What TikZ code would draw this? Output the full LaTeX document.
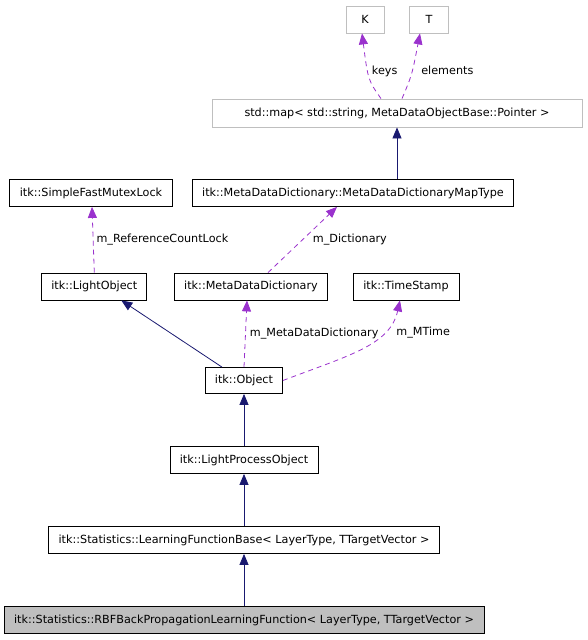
\documentclass[tikz,border=0pt]{standalone}
\usepackage{fontspec}
\setmainfont{DejaVu Sans}
\usetikzlibrary{arrows.meta,positioning}
\definecolor{edgeblue}{HTML}{191970}
\definecolor{edgepurple}{HTML}{9A32CD}
\definecolor{boxgray}{HTML}{BFBFBF}
\tikzset{
        block/.style = {draw=black, rectangle, line width=0.8pt,
            minimum height=27pt, inner xsep=6pt,
            font=\fontsize{11.2}{13}\selectfont},
        extblock/.style = {block, draw=boxgray},
        focus/.style = {block, fill=boxgray},
        inherit/.style = {draw=edgeblue, line width=0.8pt,
            -{Triangle[length=11pt,width=9pt]}},
        member/.style = {draw=edgepurple, line width=0.8pt,
            dash pattern=on 5pt off 4pt,
            -{Triangle[length=11pt,width=9pt]}},
        lbl/.style = {text=black, inner sep=1pt,
            font=\fontsize{11.2}{13}\selectfont},
    }

\begin{document}
\begin{tikzpicture}[x=1pt,y=-1pt]
    \useasboundingbox (0,0) rectangle (588,640);

    % inheritance chain
    \node[focus, minimum width=480pt] (rbf) at (244,620)
        {itk::Statistics::RBFBackPropagationLearningFunction< LayerType, TTargetVector >};
    \node[block, minimum width=391pt, above=52.2pt of rbf] (lfb)
        {itk::Statistics::LearningFunctionBase< LayerType, TTargetVector >};
    \node[block, minimum width=148pt, above=52.2pt of lfb] (lpo) {itk::LightProcessObject};
    \node[block, minimum width=77pt, minimum height=26pt, above=52.2pt of lpo] (object) {itk::Object};

    % members and bases of itk::Object
    \node[block, minimum width=105pt] (lightobj) at (94.3,286.5) {itk::LightObject};
    \node[block, minimum width=153pt] (mdd) at (251,286.5) {itk::MetaDataDictionary};
    \node[block, minimum width=106pt] (tstamp) at (406,286.5) {itk::TimeStamp};
    \node[block, minimum width=163pt] (mutex) at (91,193) {itk::SimpleFastMutexLock};
    \node[block, minimum width=321pt] (maptype) at (353,193)
        {itk::MetaDataDictionary::MetaDataDictionaryMapType};

    % std::map and its template arguments
    \node[extblock, minimum width=370pt, minimum height=28pt] (stdmap) at (397,113)
        {std::map< std::string, MetaDataObjectBase::Pointer >};
    \node[extblock, minimum width=38pt] (K) at (365,19.5) {K};
    \node[extblock, minimum width=39pt] (T) at (429,19.5) {T};

    \draw[inherit] (rbf) -- (lfb);
    \draw[inherit] (lfb) -- (lpo);
    \draw[inherit] (lpo) -- (object);
    \draw[inherit] ([xshift=-22pt]object.north) -- ([xshift=27pt]lightobj.south);
    \draw[inherit] (stdmap.south |- maptype.north) -- (stdmap.south);

    \draw[member] (object.north) -- ([xshift=-4pt]mdd.south)
        node[lbl, pos=0.5, right=3pt] {m\_MetaDataDictionary};
    \draw[member] (object.east) .. controls (350,355) and (390,345) .. ([xshift=-6pt]tstamp.south)
        node[lbl, pos=0.7, right=12pt] {m\_MTime};
    \draw[member] (lightobj.north) -- ([xshift=1pt]mutex.south)
        node[lbl, pos=0.5, right=2pt] {m\_ReferenceCountLock};
    \draw[member] ([xshift=17pt]mdd.north) -- ([xshift=-16pt]maptype.south)
        node[lbl, pos=0.5, right=9pt] {m\_Dictionary};
    \draw[member] ([xshift=-16pt]stdmap.north) .. controls (368,80) .. ([xshift=-3pt]K.south)
        node[lbl, pos=0.6, right=3pt] {keys};
    \draw[member] ([xshift=5pt]stdmap.north) .. controls (412,75) .. ([xshift=-9pt]T.south)
        node[lbl, pos=0.55, right=7.5pt] {elements};
\end{tikzpicture}
\end{document}
